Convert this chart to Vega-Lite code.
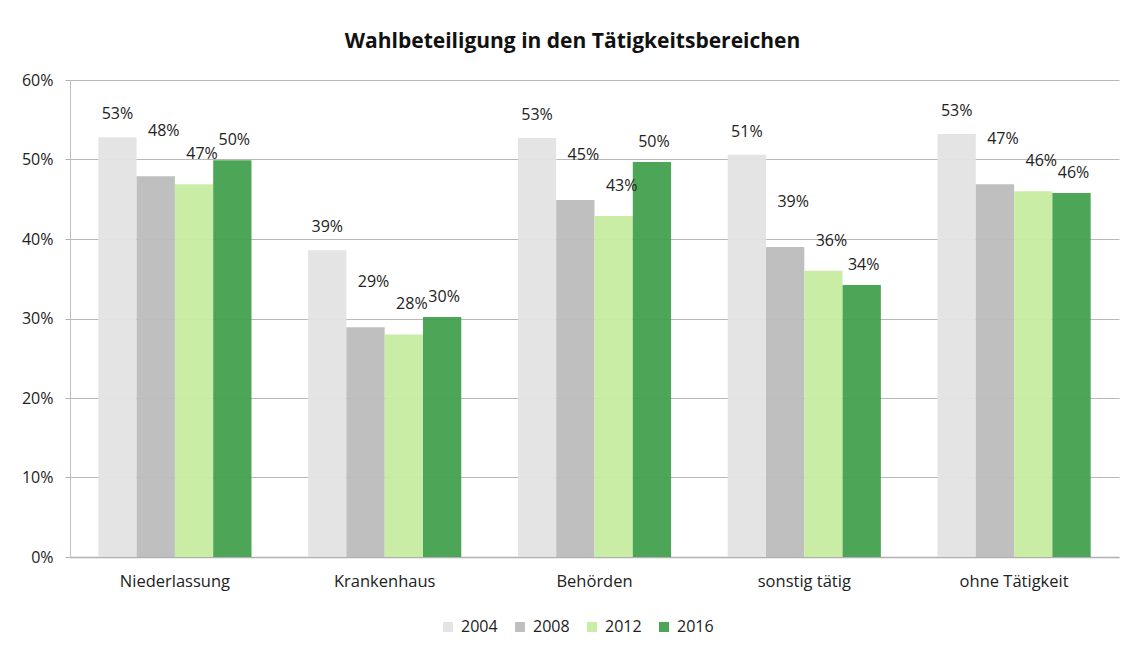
{
  "$schema": "https://vega.github.io/schema/vega-lite/v6.json",
  "autosize": {"type": "none"},
  "width": 1049,
  "height": 477,
  "padding": {"left": 70, "top": 80, "right": 12, "bottom": 90},
  "background": "white",
  "title": {
    "text": "Wahlbeteiligung in den Tätigkeitsbereichen",
    "font": "Open Sans",
    "fontSize": 21,
    "fontWeight": "bold",
    "color": "#111111",
    "anchor": "middle",
    "offset": 20,
    "dx": -22
  },
  "data": {
    "values": [
      {"bereich": "Niederlassung", "jahr": "2004", "wert": 0.528},
      {"bereich": "Niederlassung", "jahr": "2008", "wert": 0.479},
      {"bereich": "Niederlassung", "jahr": "2012", "wert": 0.469},
      {"bereich": "Niederlassung", "jahr": "2016", "wert": 0.499},
      {"bereich": "Krankenhaus", "jahr": "2004", "wert": 0.386},
      {"bereich": "Krankenhaus", "jahr": "2008", "wert": 0.289},
      {"bereich": "Krankenhaus", "jahr": "2012", "wert": 0.280},
      {"bereich": "Krankenhaus", "jahr": "2016", "wert": 0.302},
      {"bereich": "Behörden", "jahr": "2004", "wert": 0.527},
      {"bereich": "Behörden", "jahr": "2008", "wert": 0.449},
      {"bereich": "Behörden", "jahr": "2012", "wert": 0.429},
      {"bereich": "Behörden", "jahr": "2016", "wert": 0.497},
      {"bereich": "sonstig tätig", "jahr": "2004", "wert": 0.506},
      {"bereich": "sonstig tätig", "jahr": "2008", "wert": 0.390},
      {"bereich": "sonstig tätig", "jahr": "2012", "wert": 0.360},
      {"bereich": "sonstig tätig", "jahr": "2016", "wert": 0.342},
      {"bereich": "ohne Tätigkeit", "jahr": "2004", "wert": 0.532},
      {"bereich": "ohne Tätigkeit", "jahr": "2008", "wert": 0.469},
      {"bereich": "ohne Tätigkeit", "jahr": "2012", "wert": 0.460},
      {"bereich": "ohne Tätigkeit", "jahr": "2016", "wert": 0.458}
    ]
  },
  "encoding": {
    "x": {
      "field": "bereich", "type": "nominal", "sort": null,
      "scale": {"paddingInner": 0.27, "paddingOuter": 0.135},
      "axis": {
        "title": null, "labelAngle": 0, "labelFont": "Open Sans", "labelFontSize": 16.5,
        "labelColor": "#222222", "ticks": false, "domainColor": "#b0b0b0", "domainWidth": 1.5,
        "labelPadding": 16
      }
    },
    "xOffset": {"field": "jahr", "type": "nominal", "scale": {"paddingInner": 0, "paddingOuter": 0}},
    "y": {
      "field": "wert", "type": "quantitative",
      "scale": {"domain": [0, 0.6]},
      "axis": {
        "title": null, "values": [0, 0.1, 0.2, 0.3, 0.4, 0.5, 0.6],
        "format": ".0%",
        "labelFont": "Open Sans", "labelFontSize": 16, "labelColor": "#222222",
        "tickSize": 5, "tickColor": "#b0b0b0", "labelPadding": 12,
        "domainColor": "#c0c0c0", "gridColor": "#b8b8b8", "gridWidth": 1.2
      }
    }
  },
  "layer": [
    {
      "mark": {"type": "bar", "opacity": 0.95},
      "encoding": {
        "color": {
          "field": "jahr", "type": "nominal",
          "scale": {"domain": ["2004", "2008", "2012", "2016"], "range": ["#e3e3e3", "#bcbcbc", "#c6eca0", "#43a04f"]},
          "legend": {
            "title": null, "orient": "none", "direction": "horizontal",
            "legendX": 370, "legendY": 539,
            "symbolType": "square", "symbolSize": 100, "symbolStrokeWidth": 0,
            "labelFont": "Open Sans", "labelFontSize": 16, "labelColor": "#222222",
            "columnPadding": 14, "labelOffset": 5
          }
        }
      }
    },
    {
      "transform": [{"filter": "datum.jahr == '2004'"}],
      "mark": {"type": "text", "dy": -23, "dx": 0, "font": "Open Sans", "fontSize": 16, "color": "#222222"},
      "encoding": {"text": {"field": "wert", "type": "quantitative", "format": ".0%"}}
    },
    {
      "transform": [{"filter": "datum.jahr == '2008'"}],
      "mark": {"type": "text", "dy": -45, "dx": 8, "font": "Open Sans", "fontSize": 16, "color": "#222222"},
      "encoding": {"text": {"field": "wert", "type": "quantitative", "format": ".0%"}}
    },
    {
      "transform": [{"filter": "datum.jahr == '2012'"}],
      "mark": {"type": "text", "dy": -30, "dx": 8, "font": "Open Sans", "fontSize": 16, "color": "#222222"},
      "encoding": {"text": {"field": "wert", "type": "quantitative", "format": ".0%"}}
    },
    {
      "transform": [{"filter": "datum.jahr == '2016'"}],
      "mark": {"type": "text", "dy": -20, "dx": 2, "font": "Open Sans", "fontSize": 16, "color": "#222222"},
      "encoding": {"text": {"field": "wert", "type": "quantitative", "format": ".0%"}}
    }
  ],
  "config": {
    "view": {"stroke": null}
  }
}
